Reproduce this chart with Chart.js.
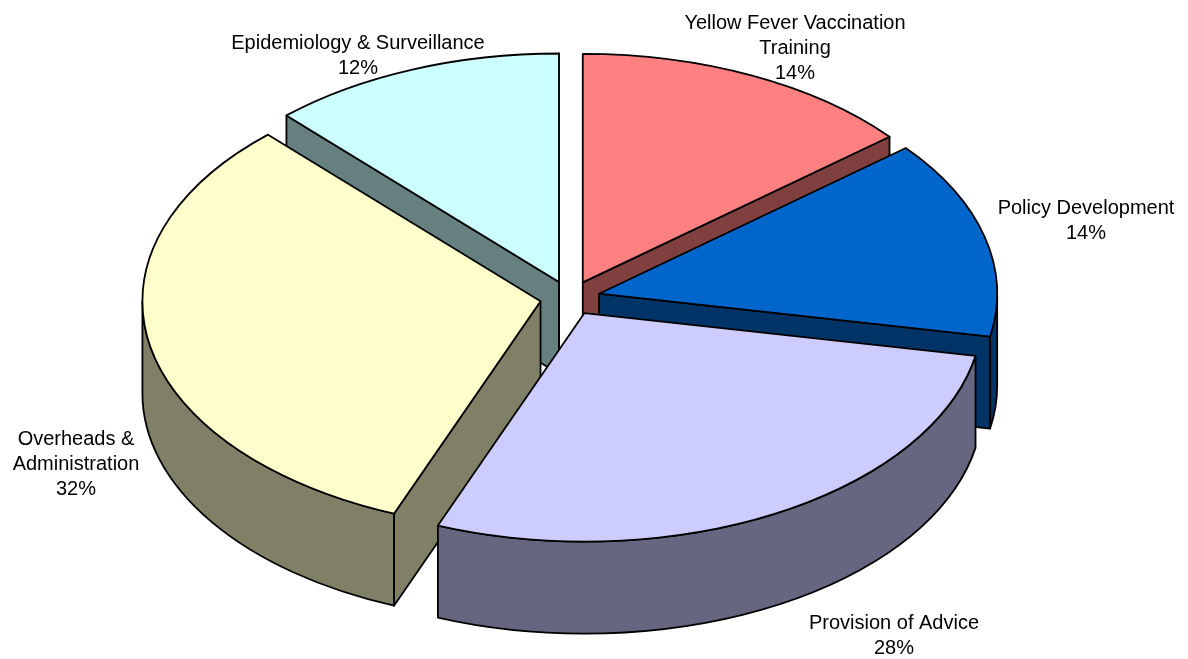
<!DOCTYPE html>
<html>
<head>
<meta charset="utf-8">
<script src="https://cdn.jsdelivr.net/npm/chart.js@4.4.0/dist/chart.umd.min.js"></script>
<style>
  html, body { margin: 0; padding: 0; background: #fff; }
  #wrap { width: 1188px; height: 659px; }
</style>
</head>
<body>
<div id="wrap"><canvas id="budgetPie"></canvas></div>
<script>
const categories = ['Yellow Fever Vaccination Training', 'Policy Development', 'Provision of Advice', 'Overheads & Administration', 'Epidemiology & Surveillance'];
const labelLines = [['Yellow Fever Vaccination', 'Training'], ['Policy Development'], ['Provision of Advice'], ['Overheads &', 'Administration'], ['Epidemiology & Surveillance']];
const shares = [14, 14, 28, 32, 12];
const topColors = ['#ff8080', '#0066cc', '#ccccff', '#ffffcc', '#ccffff'];
const sideColors = ['#804040', '#003366', '#666680', '#808066', '#668080'];

// look of the tilted pie (screen px / ratios of the chart radius)
const STRETCH_X = 1.345, STRETCH_Y = 0.772, DEPTH = 92, EXPLODE = 30;
const labelPos = [[795, 22], [1086, 207], [894, 622], [76, 438], [358, 42]];
const LINE_H = 25;

function midAngle(arc) { return (arc.startAngle + arc.endAngle) / 2; }

// draws the arcs Chart.js laid out as a squashed, extruded, exploded pie
const pie3d = {
    id: 'pie3d',
    beforeDatasetsDraw(chart) {
        const ctx = chart.ctx;
        const arcs = chart.getDatasetMeta(0).data;
        const order = arcs.map((a, i) => i)
            .sort((a, b) => Math.sin(midAngle(arcs[a])) - Math.sin(midAngle(arcs[b])));

        ctx.save();
        ctx.lineWidth = 1.8;
        ctx.lineJoin = 'round';
        ctx.strokeStyle = '#000';
        order.forEach(i => {
            const arc = arcs[i];
            const s = arc.startAngle, e = arc.endAngle, m = midAngle(arc);
            const rx = arc.outerRadius * STRETCH_X, ry = arc.outerRadius * STRETCH_Y;
            const cx = arc.x + EXPLODE * Math.cos(m);
            const cy = arc.y + 2 + EXPLODE * (ry / rx) * Math.sin(m);
            const px = a => cx + rx * Math.cos(a);
            const py = a => cy + ry * Math.sin(a);
            const paint = fill => { ctx.fillStyle = fill; ctx.fill(); ctx.stroke(); };

            // radial walls that face the viewer
            [[s, Math.cos(s) < 0], [e, Math.cos(e) > 0]].forEach(([a, show]) => {
                if (!show) return;
                ctx.beginPath();
                ctx.moveTo(cx, cy);
                ctx.lineTo(px(a), py(a));
                ctx.lineTo(px(a), py(a) + DEPTH);
                ctx.lineTo(cx, cy + DEPTH);
                ctx.closePath();
                paint(sideColors[i]);
            });

            // outer rim, front half only
            [-2 * Math.PI, 0, 2 * Math.PI].forEach(base => {
                const a1 = Math.max(s, base), a2 = Math.min(e, base + Math.PI);
                if (a2 <= a1) return;
                ctx.beginPath();
                ctx.ellipse(cx, cy, rx, ry, 0, a1, a2);
                ctx.ellipse(cx, cy + DEPTH, rx, ry, 0, a2, a1, true);
                ctx.closePath();
                paint(sideColors[i]);
            });

            // top face
            ctx.beginPath();
            ctx.moveTo(cx, cy);
            ctx.ellipse(cx, cy, rx, ry, 0, s, e);
            ctx.closePath();
            paint(topColors[i]);
        });
        ctx.restore();
        return false;
    },
    afterDraw(chart) {
        const ctx = chart.ctx;
        ctx.save();
        ctx.font = '20px "Liberation Sans", Arial, sans-serif';
        ctx.fillStyle = '#000';
        ctx.textAlign = 'center';
        ctx.textBaseline = 'alphabetic';
        labelLines.forEach((lines, i) => {
            const [x, y] = labelPos[i];
            lines.concat(shares[i] + '%').forEach((t, k) => {
                ctx.fillText(t, x, y + k * LINE_H + 7);
            });
        });
        ctx.restore();
    }
};

new Chart(document.getElementById('budgetPie'), {
    type: 'pie',
    data: {
        labels: categories,
        datasets: [{
            data: shares,
            backgroundColor: topColors,
            borderWidth: 0
        }]
    },
    options: {
        responsive: true,
        maintainAspectRatio: false,
        animation: false,
        layout: { padding: { left: 0, right: 48, top: 0, bottom: 67 } },
        plugins: { legend: { display: false }, tooltip: { enabled: false } }
    },
    plugins: [pie3d]
});
</script>
</body>
</html>
